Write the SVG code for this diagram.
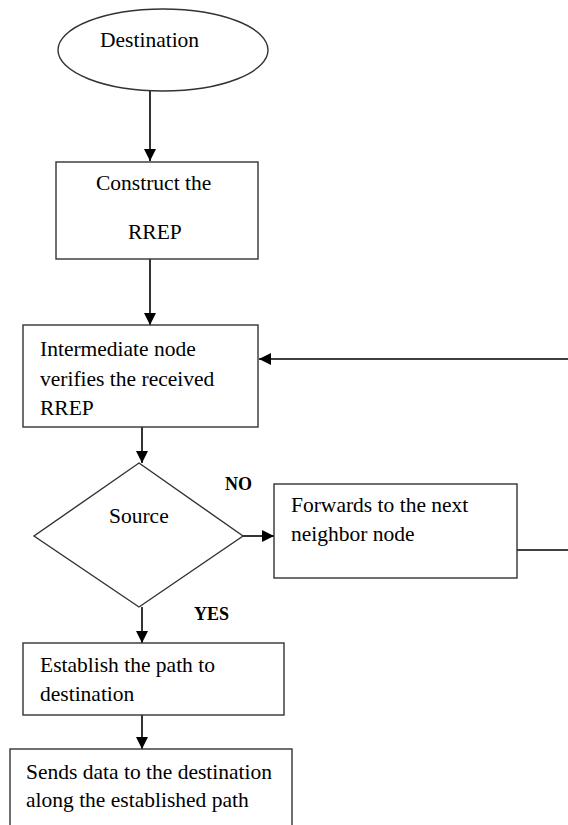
<svg xmlns="http://www.w3.org/2000/svg" width="568" height="825" viewBox="0 0 568 825">
<defs>
<marker id="ah" markerWidth="12" markerHeight="12" refX="12" refY="6" orient="auto" markerUnits="userSpaceOnUse">
<path d="M0,0 L12,6 L0,12 Z" fill="#000"/>
</marker>
<style>
.n{fill:#fff;stroke:#333;stroke-width:1.4}
.t{font-family:"Liberation Serif","Times New Roman","DejaVu Serif",serif;font-size:21.5px;fill:#000}
.b{font-family:"Liberation Serif","Times New Roman","DejaVu Serif",serif;font-size:18px;font-weight:bold;fill:#000}
.c{fill:none;stroke:#000;stroke-width:1.6}
</style>
</defs>
<rect width="568" height="825" fill="#fff"/>
<g id="connectors">
<line class="c" x1="150" y1="91" x2="150" y2="161" marker-end="url(#ah)"/>
<line class="c" x1="150" y1="259" x2="150" y2="325" marker-end="url(#ah)"/>
<line class="c" x1="568" y1="359" x2="259" y2="359" marker-end="url(#ah)"/>
<line class="c" x1="142" y1="427" x2="142" y2="463" marker-end="url(#ah)"/>
<line class="c" x1="243" y1="536" x2="274" y2="536" marker-end="url(#ah)"/>
<line class="c" x1="517" y1="550" x2="568" y2="550"/>
<line class="c" x1="142" y1="607" x2="142" y2="643" marker-end="url(#ah)"/>
<line class="c" x1="142" y1="715" x2="142" y2="749" marker-end="url(#ah)"/>
</g>
<g id="destination">
<ellipse class="n" cx="163" cy="50" rx="105" ry="41"/>
<text class="t" x="100" y="47">Destination</text>
</g>
<g id="construct">
<rect class="n" x="56" y="162" width="202" height="97"/>
<text class="t" x="96" y="190">Construct the</text>
<text class="t" x="128" y="239">RREP</text>
</g>
<g id="intermediate">
<rect class="n" x="23" y="325" width="235" height="102"/>
<text class="t" x="40" y="356">Intermediate node</text>
<text class="t" x="40" y="386">verifies the received</text>
<text class="t" x="40" y="415">RREP</text>
</g>
<g id="source">
<polygon class="n" points="139,463 243,536 139,607 34,536"/>
<text class="t" x="109" y="523">Source</text>
</g>
<g id="labels">
<text class="b" x="225" y="490">NO</text>
<text class="b" x="194" y="620">YES</text>
</g>
<g id="forwards">
<rect class="n" x="274" y="484" width="243" height="94"/>
<text class="t" x="291" y="512">Forwards to the next</text>
<text class="t" x="291" y="541">neighbor node</text>
</g>
<g id="establish">
<rect class="n" x="23" y="643" width="261" height="72"/>
<text class="t" x="40" y="672">Establish the path to</text>
<text class="t" x="40" y="701">destination</text>
</g>
<g id="sends">
<rect class="n" x="10" y="749" width="282" height="90"/>
<text class="t" x="26" y="779">Sends data to the destination</text>
<text class="t" x="26" y="807">along the established path</text>
</g>
</svg>
